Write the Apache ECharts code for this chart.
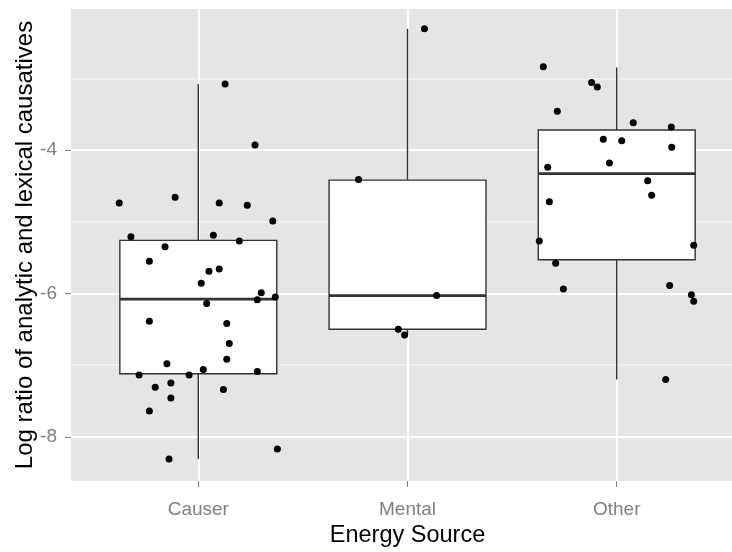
<!DOCTYPE html>
<html>
<head>
<meta charset="utf-8">
<script src="https://cdn.jsdelivr.net/npm/echarts@6/dist/echarts.min.js"></script>
<style>
  html, body { margin: 0; padding: 0; background: #ffffff; }
  #chart { width: 732px; height: 552px; }
</style>
</head>
<body>
<div id="chart"></div>
<script>
// ---- Data ----
const categories = ['Causer', 'Mental', 'Other'];

// Box statistics per category
const boxLower  = [-8.31, -6.58, -7.20];
const boxQ1     = [-7.12, -6.50, -5.53];
const boxMedian = [-6.08, -6.03, -4.33];
const boxQ3     = [-5.26, -4.42, -3.72];
const boxUpper  = [-3.08, -2.31, -2.85];

// Jittered observations: [horizontal jitter offset, value]
const causerPoints = [
  [0.128, -3.08], [0.271, -3.93], [-0.378, -4.74], [-0.111, -4.66], [0.100, -4.74],
  [0.234, -4.77], [0.356, -4.99], [-0.322, -5.21], [0.072, -5.19], [0.196, -5.27],
  [-0.159, -5.35], [-0.234, -5.55], [0.051, -5.69], [0.100, -5.66], [0.014, -5.86],
  [0.301, -5.99], [0.282, -6.09], [0.368, -6.05], [0.040, -6.14], [-0.234, -6.39],
  [0.136, -6.42], [0.148, -6.70], [-0.150, -6.98], [0.136, -6.92], [0.024, -7.06],
  [0.282, -7.09], [-0.283, -7.14], [-0.044, -7.14], [-0.206, -7.31], [-0.131, -7.25],
  [0.120, -7.34], [-0.131, -7.46], [-0.234, -7.64], [0.378, -8.17], [-0.140, -8.31]
];
const mentalPoints = [
  [0.081, -2.31], [-0.234, -4.41], [0.139, -6.03], [-0.044, -6.50], [-0.014, -6.58]
];
const otherPoints = [
  [-0.351, -2.84], [-0.120, -3.06], [-0.093, -3.12], [-0.284, -3.46], [0.079, -3.62],
  [0.261, -3.68], [-0.064, -3.85], [0.024, -3.87], [0.263, -3.96], [-0.330, -4.24],
  [-0.035, -4.18], [0.148, -4.43], [0.167, -4.63], [-0.322, -4.72], [-0.370, -5.27],
  [0.368, -5.33], [-0.292, -5.58], [-0.255, -5.94], [0.253, -5.89], [0.357, -6.02],
  [0.368, -6.11], [0.234, -7.20]
];

// Axis ticks
const xTickValues = [1, 2, 3];
const yMajorTicks = [-8, -6, -4];
const yMinorTicks = [-7, -5, -3];

// ---- Build options ----
const groups = [causerPoints, mentalPoints, otherPoints];
const scatterData = [];
groups.forEach((pts, gi) => {
  pts.forEach(p => scatterData.push([gi + 1 + p[0], p[1]]));
});

const boxData = categories.map((c, i) => [i + 1, boxLower[i], boxQ1[i], boxMedian[i], boxQ3[i], boxUpper[i]]);

const BOX_HALF = 0.375;
const lineColor = '#333333';

function renderBox(params, api) {
  const x = api.value(0);
  const lo = api.value(1), q1 = api.value(2), med = api.value(3), q3 = api.value(4), hi = api.value(5);
  const pLo = api.coord([x, lo]);
  const pHi = api.coord([x, hi]);
  const pQ1 = api.coord([x, q1]);
  const pQ3 = api.coord([x, q3]);
  const left = api.coord([x - BOX_HALF, q3]);
  const right = api.coord([x + BOX_HALF, q1]);
  const mL = api.coord([x - BOX_HALF, med]);
  const mR = api.coord([x + BOX_HALF, med]);
  return {
    type: 'group',
    children: [
      { type: 'line', shape: { x1: pQ3[0], y1: pQ3[1], x2: pHi[0], y2: pHi[1] },
        style: { stroke: lineColor, lineWidth: 1.4 } },
      { type: 'line', shape: { x1: pQ1[0], y1: pQ1[1], x2: pLo[0], y2: pLo[1] },
        style: { stroke: lineColor, lineWidth: 1.4 } },
      { type: 'rect', shape: { x: left[0], y: left[1], width: right[0] - left[0], height: right[1] - left[1] },
        style: { fill: '#ffffff', stroke: lineColor, lineWidth: 1.4 } },
      { type: 'line', shape: { x1: mL[0], y1: mL[1], x2: mR[0], y2: mR[1] },
        style: { stroke: lineColor, lineWidth: 2.8 } }
    ]
  };
}

const yMin = -8.617, yMax = -2.033;
const xMin = 0.3915, xMax = 3.551;

const option = {
  animation: false,
  backgroundColor: '#ffffff',
  textStyle: { fontFamily: 'Liberation Sans, Arial, sans-serif' },
  grid: {
    left: 71, top: 9,
    right: 0,
    height: 472,
    show: true,
    backgroundColor: '#E5E5E5',
    borderWidth: 0,
    containLabel: false,
    outerBoundsMode: 'none'
  },
  xAxis: {
    type: 'value',
    min: xMin, max: xMax,
    name: 'Energy Source',
    nameLocation: 'middle',
    nameGap: 40,
    nameTextStyle: { fontSize: 23.5, color: '#000000', padding: [0, 0, 0, 12], fontFamily: 'Liberation Sans, Arial, sans-serif' },
    axisLine: { show: false },
    axisTick: { show: true, customValues: xTickValues, length: 6, lineStyle: { color: '#7F7F7F', width: 1 } },
    axisLabel: {
      customValues: xTickValues,
      formatter: v => categories[Math.round(v) - 1],
      fontSize: 19, color: '#7F7F7F', margin: 19,
      fontFamily: 'Liberation Sans, Arial, sans-serif'
    },
    splitLine: { show: true, lineStyle: { color: '#ffffff', width: 2 } }
  },
  yAxis: [
    {
      type: 'value',
      min: yMin, max: yMax,
      name: 'Log ratio of analytic and lexical causatives',
      nameLocation: 'middle',
      nameGap: 34,
      nameMoveOverlap: false,
      nameTextStyle: { fontSize: 24, color: '#000000', fontFamily: 'Liberation Sans, Arial, sans-serif' },
      axisLine: { show: false },
      axisTick: { show: true, customValues: yMajorTicks, length: 6, lineStyle: { color: '#7F7F7F', width: 1 } },
      axisLabel: {
        customValues: yMajorTicks,
        fontSize: 19, color: '#7F7F7F', margin: 14,
        fontFamily: 'Liberation Sans, Arial, sans-serif'
      },
      splitLine: { show: true, lineStyle: { color: '#ffffff', width: 2 } }
    },
    {
      type: 'value',
      min: yMin, max: yMax,
      position: 'left',
      axisLine: { show: false },
      axisTick: { show: false, customValues: yMinorTicks },
      axisLabel: { show: false, customValues: yMinorTicks },
      splitLine: { show: true, lineStyle: { color: '#F2F2F2', width: 1.5 } }
    }
  ],
  series: [
    {
      type: 'custom',
      renderItem: renderBox,
      data: boxData,
      encode: { x: 0, y: [1, 2, 3, 4, 5] },
      z: 2,
      silent: true
    },
    {
      type: 'scatter',
      data: scatterData,
      symbol: 'circle',
      symbolSize: 7,
      itemStyle: { color: '#000000', opacity: 1 },
      z: 3,
      silent: true
    }
  ]
};

const chart = echarts.init(document.getElementById('chart'), null, { renderer: 'canvas' });
chart.setOption(option);
</script>
</body>
</html>
